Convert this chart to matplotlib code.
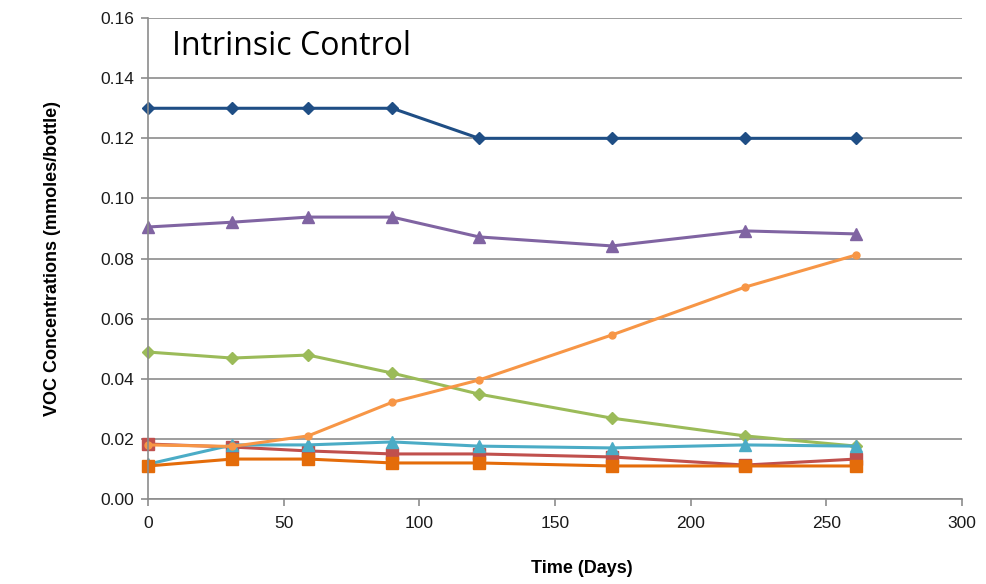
import numpy as np
import matplotlib.pyplot as plt

days = [0, 31, 59, 90, 122, 171, 220, 261]

blue = [0.130, 0.130, 0.130, 0.130, 0.120, 0.120, 0.120, 0.120]
purple = [0.0905, 0.0921, 0.0938, 0.0938, 0.0872, 0.0842, 0.0892, 0.0882]
green = [0.0489, 0.0469, 0.0479, 0.0419, 0.0349, 0.0269, 0.0210, 0.0176]
red = [0.0183, 0.0173, 0.0160, 0.0150, 0.0150, 0.0140, 0.0113, 0.0133]
cyan = [0.0116, 0.0180, 0.0180, 0.0190, 0.0176, 0.0170, 0.0180, 0.0176]
dark_orange = [0.0110, 0.0133, 0.0133, 0.0120, 0.0120, 0.0110, 0.0110, 0.0110]
light_orange = [0.0180, 0.0175, 0.0210, 0.0322, 0.0396, 0.0546, 0.0705, 0.0812]

series = [
    (blue, '#1F4E85', 'D', 6),
    (purple, '#8064A2', '^', 8),
    (green, '#9BBB59', 'D', 6),
    (red, '#C0504D', 's', 8),
    (cyan, '#4BACC6', '^', 8),
    (dark_orange, '#E46C0A', 's', 8),
    (light_orange, '#F79646', 'o', 5),
]

plt.rcParams['font.family'] = ['Liberation Sans', 'DejaVu Sans']

fig = plt.figure(figsize=(9.87, 5.84), dpi=100)
ax = fig.add_axes([0.15, 0.1455, 0.8247, 0.8235])

for vals, color, marker, ms in series:
    ax.plot(days, vals, color=color, marker=marker, markersize=ms, linewidth=2.2,
            clip_on=False)

ax.set_xlim(0, 300)
ax.set_ylim(0, 0.16)
ax.set_xticks(np.arange(0, 301, 50))
ax.set_yticks(np.arange(0, 0.161, 0.02))
ax.set_yticklabels([f'{v:.2f}' for v in np.arange(0, 0.161, 0.02)])
ax.grid(axis='y', color='#8C8C8C', linewidth=1.2)
ax.set_axisbelow(True)

for side in ['top', 'right']:
    ax.spines[side].set_visible(False)
for side in ['left', 'bottom']:
    ax.spines[side].set_color('#8C8C8C')
    ax.spines[side].set_linewidth(1.2)
ax.tick_params(colors='#8C8C8C', labelcolor='#1A1A1A', labelsize=12.5, length=5, width=1.2)
ax.tick_params(axis='y', pad=5)
ax.tick_params(axis='x', pad=7)

ax.set_xlabel('Time (Days)', fontsize=13, fontweight='bold')
ax.xaxis.set_label_coords(0.533, -0.127)
ax.set_ylabel('VOC Concentrations (mmoles/bottle)', fontsize=13, fontweight='bold', labelpad=28)

ax.text(0.03, 0.94, 'Intrinsic Control', transform=ax.transAxes, fontsize=23,
        family='Open Sans', va='center', ha='left')

fig.savefig('out.png', dpi=100)
